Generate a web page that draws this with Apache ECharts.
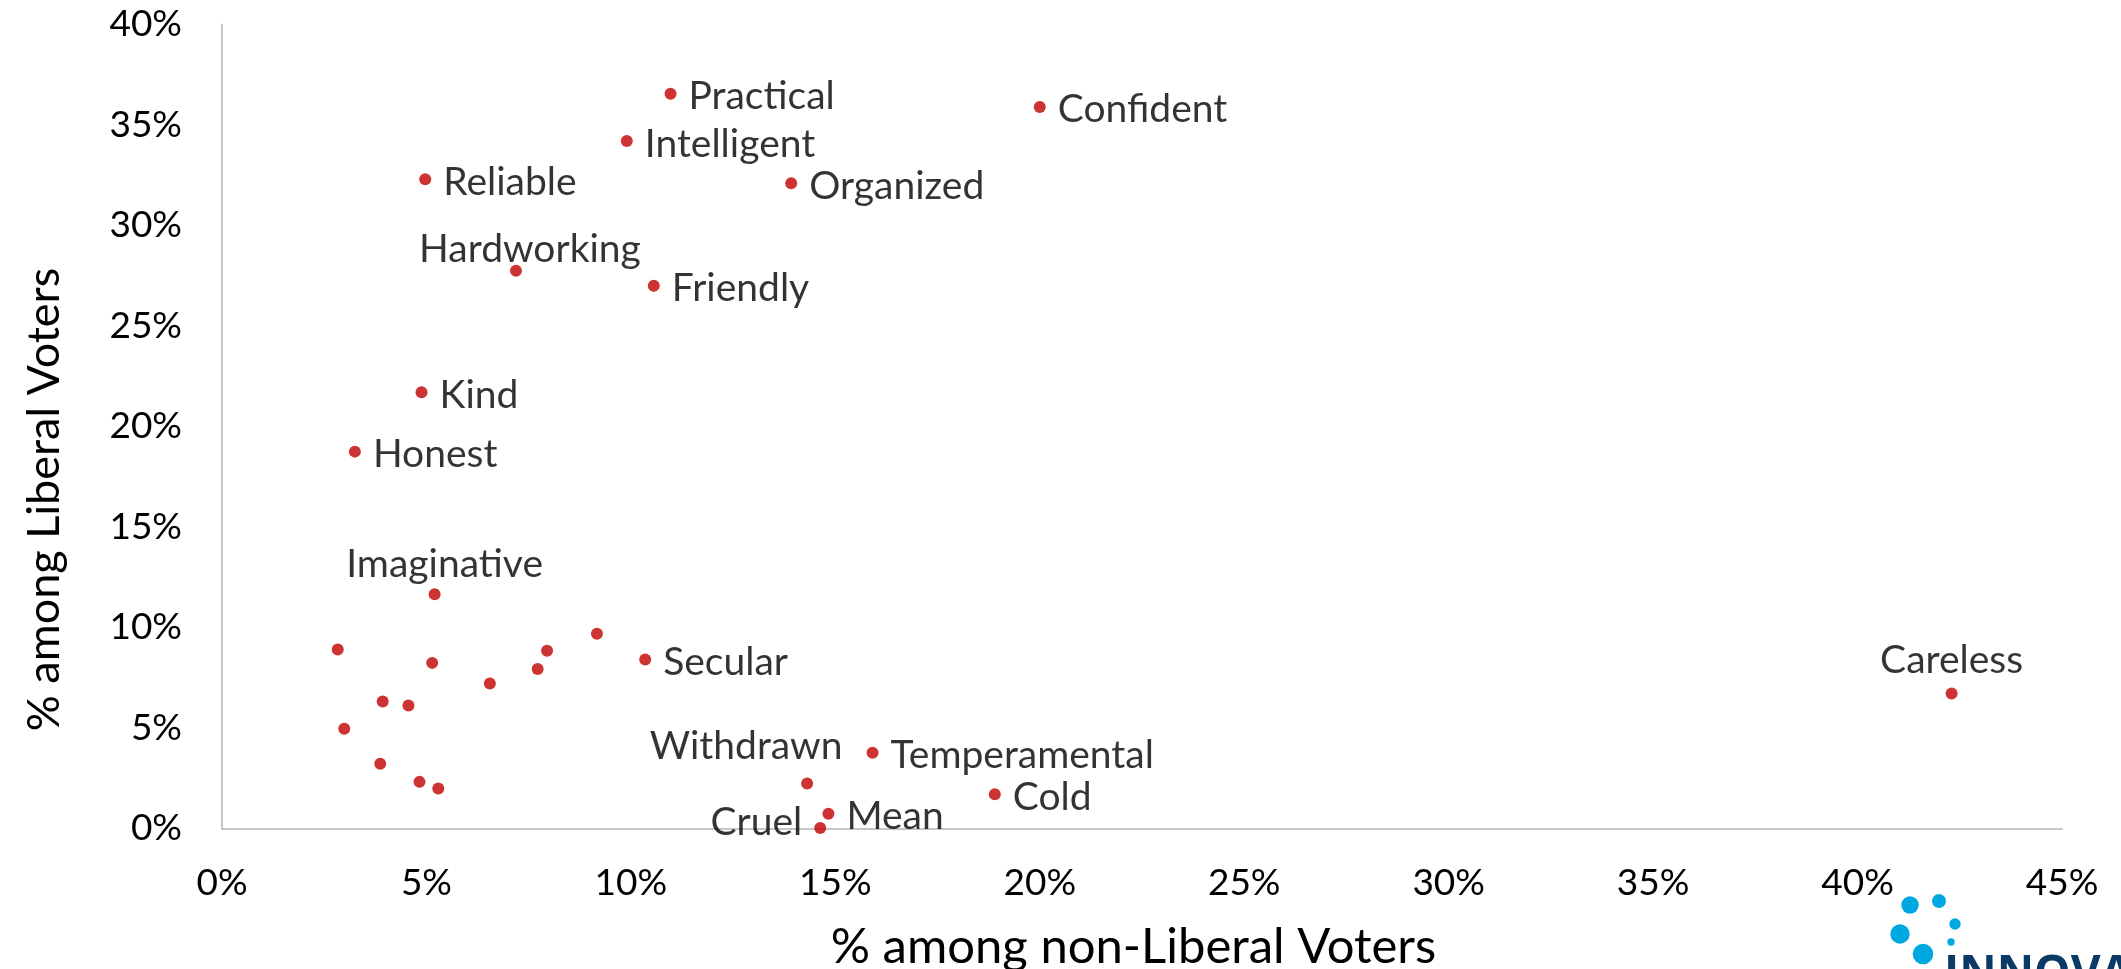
<!DOCTYPE html>
<html>
<head>
<meta charset="utf-8">
<script src="https://cdn.jsdelivr.net/npm/echarts@6/dist/echarts.min.js"></script>
<style>
html,body{margin:0;padding:0;background:#fff;}
#chart{width:2121px;height:969px;}
</style>
</head>
<body>
<div id="chart"></div>
<script>
// ---- data ----
const traitNames = ['Practical','Confident','Intelligent','Reliable','Organized','Hardworking','Friendly','Kind','Honest','Imaginative',
  '','','','','','','Secular','','','','','','',
  'Withdrawn','Temperamental','Cold','Mean','Cruel','Careless'];
const nonLiberalPct = [10.97,20.0,9.9,4.97,13.92,7.19,10.56,4.88,3.25,5.2,
  2.83,5.14,6.55,7.72,7.95,9.17,10.35,3.93,4.56,2.99,3.87,4.83,5.29,
  14.31,15.91,18.9,14.83,14.63,42.3];
const liberalPct = [36.55,35.9,34.2,32.3,32.1,27.75,27.0,21.7,18.75,11.65,
  8.91,8.24,7.21,7.94,8.84,9.69,8.41,6.32,6.12,4.96,3.22,2.32,1.99,
  2.24,3.77,1.7,0.73,0.02,6.72];
const xTicks = [0,5,10,15,20,25,30,35,40,45];
const yTicks = [0,5,10,15,20,25,30,35,40];
const xTitle = '% among non-Liberal Voters';
const yTitle = '% among Liberal Voters';

// ---- label placement (style) ----
const labelPlacement = {
  Hardworking: {position:'top', offset:[14,16]},
  Imaginative: {position:'top', offset:[10,8]},
  Careless: {position:'top', offset:[0,4]},
  Withdrawn: {position:'top', offset:[-61,0]},
  Cruel: {position:'left', offset:[0,-6]}
};

const FONT = 'Lato';
const seriesData = traitNames.map((n,i)=>{
  const p = labelPlacement[n] || {position:'right', offset:[0,3]};
  return {
    name:n,
    value:[nonLiberalPct[i], liberalPct[i]],
    label:{show:n!=='', formatter:n, position:p.position, offset:p.offset}
  };
});

const chart = echarts.init(document.getElementById('chart'), null, {renderer:'canvas'});
chart.setOption({
  backgroundColor:'#ffffff',
  animation:false,
  grid:{left:222, right:59, top:24.5, bottom:140.5, containLabel:false, outerBoundsMode:'none'},
  xAxis:{
    type:'value', min:xTicks[0], max:xTicks[xTicks.length-1], interval:5,
    axisLine:{show:true, lineStyle:{color:'#c6c6c6', width:2}},
    axisTick:{show:false}, splitLine:{show:false},
    axisLabel:{formatter:'{value}%', color:'#000', fontFamily:FONT, fontSize:37, margin:36},
    name:xTitle, nameLocation:'middle', nameGap:94,
    nameTextStyle:{color:'#000', fontFamily:FONT, fontSize:49, padding:[0,17,0,0]}
  },
  yAxis:{
    type:'value', min:yTicks[0], max:yTicks[yTicks.length-1], interval:5,
    axisLine:{show:true, lineStyle:{color:'#c6c6c6', width:2}},
    axisTick:{show:false}, splitLine:{show:false},
    axisLabel:{formatter:'{value}%', color:'#000', fontFamily:FONT, fontSize:37, margin:40},
    name:yTitle, nameLocation:'middle', nameGap:155, nameRotate:90,
    nameTextStyle:{color:'#000', fontFamily:FONT, fontSize:45, padding:[0,146,0,0]}
  },
  series:[{
    type:'scatter',
    symbol:'circle', symbolSize:12,
    itemStyle:{color:'#C00000'},
    label:{color:'#000', fontFamily:FONT, fontSize:39, distance:12},
    data:seriesData
  }],
  graphic:[
    {type:'circle', shape:{cx:1910, cy:905, r:8.7}, style:{fill:'#00A8E1'}},
    {type:'circle', shape:{cx:1939, cy:901, r:7}, style:{fill:'#00A8E1'}},
    {type:'circle', shape:{cx:1955, cy:924, r:5.7}, style:{fill:'#00A8E1'}},
    {type:'circle', shape:{cx:1900, cy:934, r:9.7}, style:{fill:'#00A8E1'}},
    {type:'circle', shape:{cx:1951, cy:942, r:3.7}, style:{fill:'#00A8E1'}},
    {type:'circle', shape:{cx:1923, cy:954, r:10.3}, style:{fill:'#00A8E1'}},
    {type:'text', x:1944, y:952, style:{text:'INNOVA', fill:'#0C3A66', font:'bold 46px "Open Sans"', textVerticalAlign:'top'}}
  ]
});
</script>
</body>
</html>
